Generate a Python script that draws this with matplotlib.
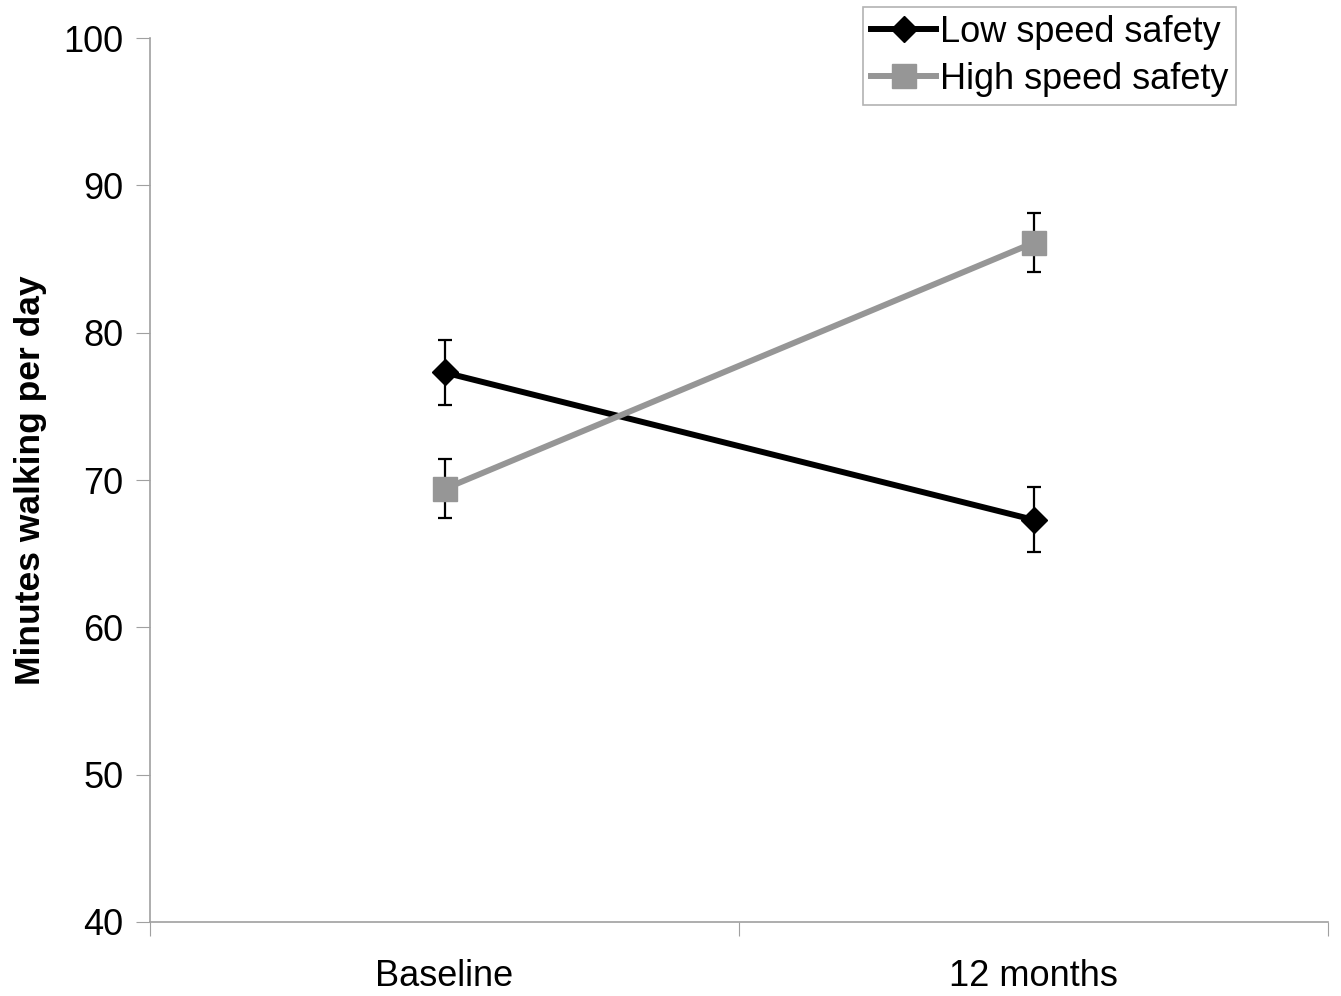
import numpy as np
import matplotlib.pyplot as plt

plt.rcParams['font.family'] = ['Liberation Sans', 'DejaVu Sans']

categories = ["Baseline", "12 months"]
low_speed = [77.3, 67.3]
low_err = [2.2, 2.2]
high_speed = [69.4, 86.1]
high_err = [2.0, 2.0]

fig = plt.figure(figsize=(13.41, 9.96), dpi=100)
ax = fig.add_axes([0.1119, 0.0743, 0.8784, 0.8875])

x = np.arange(len(categories)) + 0.5

ax.errorbar(x, low_speed, yerr=low_err, fmt='none', ecolor='black',
            elinewidth=1.6, capsize=5, capthick=1.6, zorder=2)
ax.errorbar(x, high_speed, yerr=high_err, fmt='none', ecolor='black',
            elinewidth=1.6, capsize=5, capthick=1.6, zorder=2)
ax.plot(x, low_speed, color='black', lw=4.3, marker='D', markersize=13,
        label='Low speed safety', zorder=3)
ax.plot(x, high_speed, color='#969696', lw=4.3, marker='s', markersize=17,
        label='High speed safety', zorder=3)

ax.set_xlim(0, 2)
ax.set_ylim(40, 100)
ax.set_yticks(range(40, 101, 10))
ax.set_xticks([0, 1, 2])
ax.set_xticklabels([])
ax.set_xticks(x, minor=True)
ax.set_xticklabels(categories, minor=True)
ax.tick_params(axis='x', which='minor', length=0, pad=27, labelsize=26)
ax.tick_params(axis='x', which='major', length=10, color='#a0a0a0', direction='out')
ax.tick_params(axis='y', length=10, color='#a0a0a0', labelsize=26, pad=9)

for side in ['top', 'right']:
    ax.spines[side].set_visible(False)
for side in ['left', 'bottom']:
    ax.spines[side].set_color('#a0a0a0')
    ax.spines[side].set_linewidth(1.2)

ax.set_ylabel("Minutes walking per day", fontsize=25.5, fontweight='bold', labelpad=12)

leg = ax.legend(loc='upper right', bbox_to_anchor=(0.922, 1.035), fontsize=26,
                frameon=True, fancybox=False, handlelength=1.8, handletextpad=0.1,
                borderpad=0.22, labelspacing=0.32, borderaxespad=0)
leg.get_frame().set_edgecolor('#a0a0a0')
leg.get_frame().set_linewidth(1.2)

fig.savefig("out.png", dpi=100)
